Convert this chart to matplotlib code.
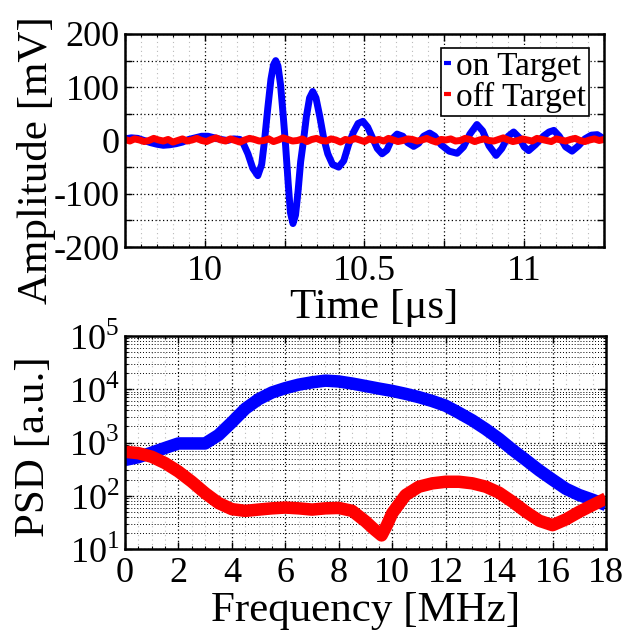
import numpy as np
import matplotlib
matplotlib.use("Agg")
import matplotlib.pyplot as plt
from matplotlib.ticker import MultipleLocator, FuncFormatter, LogLocator, NullFormatter

plt.rcParams['font.family'] = ['Liberation Serif', 'DejaVu Serif']
plt.rcParams['mathtext.fontset'] = 'custom'
plt.rcParams['mathtext.rm'] = 'Liberation Serif'
plt.rcParams['axes.unicode_minus'] = False

# --- time signal (us, mV) ---
on_t = [9.75, 9.77, 9.79, 9.81, 9.83, 9.85, 9.87, 9.89, 9.91, 9.93, 9.95, 9.97, 9.99,
        10.01, 10.03, 10.05, 10.07, 10.09, 10.11, 10.12, 10.135, 10.15, 10.166, 10.178,
        10.187, 10.197, 10.207, 10.215, 10.222, 10.229, 10.237, 10.245, 10.253, 10.261,
        10.268, 10.276, 10.284, 10.292, 10.30, 10.309, 10.318, 10.328, 10.338, 10.348,
        10.36, 10.372, 10.385, 10.40, 10.419, 10.435, 10.45, 10.465, 10.48, 10.495,
        10.51, 10.525, 10.54, 10.555, 10.57, 10.585, 10.602, 10.62, 10.635, 10.654,
        10.67, 10.685, 10.704, 10.72, 10.74, 10.765, 10.79, 10.81, 10.83, 10.852, 10.87,
        10.89, 10.912, 10.93, 10.95, 10.967, 10.985, 11.0, 11.014, 11.035, 11.06, 11.078,
        11.093, 11.11, 11.13, 11.15, 11.17, 11.19, 11.21, 11.229, 11.25]
on_mv = [3, 5, 4, 0, -4, -7, -9, -8, -6, -3, 2, 5, 8,
         8, 5, 2, 0, 3, 2, -5, -25, -52, -66, -45,
         0, 60, 115, 142, 150, 140, 105, 50, -10, -80,
         -135, -156, -140, -95, -40, 0, 45, 80, 92, 80,
         45, 5, -25, -45, -50, -38, -8, 15, 32, 36,
         25, 5, -15, -25, -18, 2, 12, 8, -4, -11,
         -5, 8, 14, 8, -8, -20, -24, -12, 12, 30, 18,
         -10, -28, -15, 8, 16, 5, -12, -19, -8, 8, 16,
         19, 8, -12, -20, -10, 3, 10, 11, 3]
off_mv = [2, -1, 3, 1, -2, 0, 4, 1, -1, 2, -3, 0, 3, -1, 1, 4, 0, -2, 2, 5, 1, -1, 3, 0,
          -3, 1, 4, 2, -1, 0, 3, -2, 1, 5, 2, -1, 0, 3, -2, 2, 4, 0, -1, 3, 1, -3, 2, 0,
          4, 1, -2, 3, 0, 2, -1, 4, 1, -2, 0, 3, 2, -1, 1, 4, 0, -3, 2, 1, 3, -1, 0, 4,
          2, -2, 1, 3, 0, -1, 2, 5, 1, -2, 0, 3, 1, -1, 4, 2, 0, -2, 3, 1, -1, 2, 4, 0,
          -2, 1, 3, 0, 2]
off_t = np.linspace(9.75, 11.25, len(off_mv))

# --- power spectral density ---
on_f = [0, 0.5, 1, 1.5, 2, 2.5, 3, 3.5, 4, 4.5, 5, 5.5, 6, 6.5, 7, 7.5, 8, 8.5, 9,
        9.5, 10, 10.5, 11, 11.5, 12, 12.5, 13, 13.5, 14, 14.5, 15, 15.5, 16, 16.5, 17,
        17.5, 18]
on_psd = [470, 530, 645, 790, 960, 960, 960, 1380, 2400, 4300, 6500, 8700, 10500,
          12200, 13500, 14500, 14000, 12800, 11500, 10300, 9300, 8200, 7100, 6000,
          4900, 3600, 2600, 1780, 1170, 730, 470, 300, 200, 135, 103, 84, 67]
off_f = [0, 0.5, 1, 1.5, 2, 2.5, 3, 3.5, 4, 4.5, 5, 5.5, 6, 6.5, 7, 7.5, 8, 8.5, 9,
         9.3, 9.6, 9.8, 10, 10.5, 11, 11.5, 12, 12.5, 13, 13.5, 14, 14.5, 15, 15.5, 16,
         16.5, 17, 17.5, 18]
off_psd = [670, 630, 540, 410, 285, 183, 112, 73, 56, 52, 55, 58, 60, 58, 55, 58, 59,
           52, 33, 24, 18, 28, 47, 103, 148, 171, 183, 183, 171, 148, 114, 77, 50, 34,
           28, 36, 50, 67, 89]

fig = plt.figure(figsize=(6.24, 6.31), dpi=100)
ax1 = fig.add_axes([125/624, 1-247/631, 479/624, 213/631])
ax2 = fig.add_axes([125/624, 1-549/631, 481/624, 213/631])

tick_fs = 26
label_fs = 31

ax1.plot(on_t, on_mv, color='#0000ff', lw=5, label='on Target', solid_capstyle='round')
ax1.plot(off_t, off_mv, color='#ff0000', lw=5, label='off Target', solid_capstyle='round')
ax1.set_xlim(9.75, 11.25)
ax1.set_ylim(-200, 200)
ax1.xaxis.set_major_locator(MultipleLocator(0.25))
ax1.xaxis.set_minor_locator(MultipleLocator(0.05))
ax1.xaxis.set_major_formatter(FuncFormatter(
    lambda v, p: ('%g' % v) if abs(v * 2 - round(v * 2)) < 1e-6 else ''))
ax1.yaxis.set_major_locator(MultipleLocator(50))
ax1.yaxis.set_major_formatter(FuncFormatter(
    lambda v, p: ('%d' % v) if abs(v % 100) < 1e-6 else ''))
ax1.grid(True, which='major', color='black', ls=(0, (1, 2)), lw=0.9)
ax1.grid(True, which='minor', axis='x', color='#bbbbbb', ls=(0, (1, 3)), lw=0.8)
ax1.set_xlabel('Time [μs]', fontsize=label_fs)
ax1.set_ylabel('Amplitude [mV]', fontsize=label_fs)
ax1.xaxis.set_label_coords(0.52, -0.195)
ax1.yaxis.set_label_coords(-0.145, 0.41)
leg = ax1.legend(loc='upper right', bbox_to_anchor=(0.969, 0.934), borderaxespad=0,
                 fontsize=24, handlelength=0.2, handletextpad=0.15, borderpad=0.1,
                 labelspacing=0.0, fancybox=False, framealpha=1)
leg.get_frame().set_edgecolor('black')
leg.get_frame().set_linewidth(1.2)
for h in leg.get_lines():
    h.set_linewidth(3)
    h.set_solid_capstyle('butt')

ax2.semilogy(on_f, on_psd, color='#0000ff', lw=9, solid_capstyle='butt')
ax2.semilogy(off_f, off_psd, color='#ff0000', lw=9, solid_capstyle='butt')
ax2.set_xlim(0, 18)
ax2.set_ylim(10, 1e5)
ax2.xaxis.set_major_locator(MultipleLocator(2))
ax2.xaxis.set_minor_locator(MultipleLocator(0.5))
ax2.yaxis.set_major_locator(LogLocator(base=10, numticks=10))
ax2.yaxis.set_minor_locator(LogLocator(base=10, subs=np.arange(2, 10), numticks=10))
ax2.yaxis.set_minor_formatter(NullFormatter())
ax2.yaxis.set_major_formatter(FuncFormatter(lambda v, p: r'$10^{%d}$' % round(np.log10(v))))
ax2.grid(True, which='major', color='black', ls=(0, (1, 2)), lw=0.9)
ax2.grid(True, which='minor', axis='y', color='black', ls=(0, (1, 2)), lw=0.7)
ax2.grid(True, which='minor', axis='x', color='#bbbbbb', ls=(0, (1, 3)), lw=0.8)
ax2.set_xlabel('Frequency [MHz]', fontsize=label_fs)
ax2.set_ylabel('PSD [a.u.]', fontsize=label_fs)
ax2.xaxis.set_label_coords(0.5, -0.2)
ax2.yaxis.set_label_coords(-0.15, 0.48)

for ax in (ax1, ax2):
    ax.tick_params(which='both', direction='in', labelsize=tick_fs, top=True, right=True)
    ax.tick_params(which='major', length=5, width=1)
    ax.tick_params(which='minor', length=2.5, width=0.8)
    ax.tick_params(axis='y', pad=4)
    ax.tick_params(axis='x', pad=6)
    for s in ax.spines.values():
        s.set_linewidth(1.8)

fig.savefig('out.png', dpi=100)
